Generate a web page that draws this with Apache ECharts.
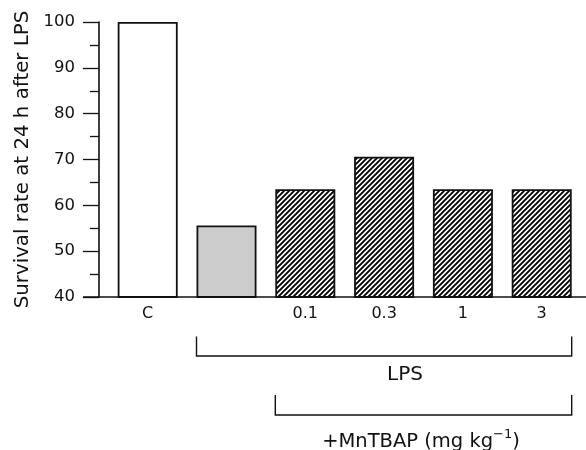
<!DOCTYPE html>
<html>
<head>
<meta charset="utf-8">
<script src="https://cdn.jsdelivr.net/npm/echarts@6/dist/echarts.min.js"></script>
<style>
  html, body { margin: 0; padding: 0; background: #fff; }
  #chart-container { width: 586px; height: 450px; }
</style>
</head>
<body>
<div id="chart-container"></div>
<script>
// 数据
var categories = ['C', '', '0.1', '0.3', '1', '3'];
var survival = [100, 55.6, 63.5, 70.6, 63.5, 63.5];
var fillKind = ['white', 'gray', 'hatch', 'hatch', 'hatch', 'hatch'];

var FONT = 'DejaVu Sans';
var INK = '#111';

// 斜线填充
var tile = document.createElement('canvas');
tile.width = 5;
tile.height = 5;
var ctx = tile.getContext('2d');
ctx.fillStyle = '#fff';
ctx.fillRect(0, 0, 5, 5);
ctx.strokeStyle = '#000';
ctx.lineWidth = 1.9;
ctx.beginPath();
ctx.moveTo(-1, 6); ctx.lineTo(6, -1);
ctx.moveTo(-1, 1); ctx.lineTo(1, -1);
ctx.moveTo(4, 6); ctx.lineTo(6, 4);
ctx.stroke();

function fillFor(kind) {
    if (kind === 'white') return '#ffffff';
    if (kind === 'gray') return '#cccccc';
    return { image: tile, repeat: 'repeat' };
}

var barData = survival.map(function (v, i) {
    return { value: v, itemStyle: { color: fillFor(fillKind[i]) } };
});

var container = document.getElementById('chart-container');
var myChart = echarts.init(container);

var BAR_W = 60;

myChart.setOption({
    animation: false,
    grid: { left: 108.3, right: 4.9, top: 22, bottom: 153 },
    xAxis: {
        type: 'category',
        data: categories,
        axisLine: { show: false },
        axisTick: { show: false },
        axisLabel: { color: INK, fontFamily: FONT, fontSize: 16, margin: 9 }
    },
    yAxis: {
        type: 'value',
        min: 40,
        max: 100,
        interval: 10,
        offset: 9.3,
        name: 'Survival rate at 24 h after LPS',
        nameLocation: 'middle',
        nameGap: 66,
        nameTextStyle: { color: INK, fontFamily: FONT, fontSize: 19.8 },
        axisLine: { show: true, lineStyle: { color: INK, width: 1.6 } },
        axisTick: { show: true, length: 16, lineStyle: { color: INK, width: 1.3 } },
        minorTick: { show: true, splitNumber: 2, length: 9, lineStyle: { color: INK, width: 1.3 } },
        splitLine: { show: false },
        axisLabel: { color: INK, fontFamily: FONT, fontSize: 16.5, margin: 24 }
    },
    series: [{
        type: 'bar',
        data: barData,
        barWidth: BAR_W,
        itemStyle: { borderColor: '#111', borderWidth: 1.8 }
    }]
});

// 坐标轴线与括号
var y0 = myChart.convertToPixel({ yAxisIndex: 0 }, 40);
var xGray = myChart.convertToPixel({ xAxisIndex: 0 }, 1);
var xFirstDose = myChart.convertToPixel({ xAxisIndex: 0 }, 2);
var xLast = myChart.convertToPixel({ xAxisIndex: 0 }, categories.length - 1);
var half = BAR_W / 2;
var lineStyle = { stroke: INK, lineWidth: 1.4, fill: null };

function bracket(x1, x2, yTop, yBot) {
    return {
        type: 'polyline',
        shape: { points: [[x1, yTop], [x1, yBot], [x2, yBot], [x2, yTop]] },
        style: lineStyle,
        silent: true
    };
}

myChart.setOption({
    graphic: [
        {
            type: 'line',
            shape: { x1: 83, y1: y0, x2: 586, y2: y0 },
            style: { stroke: INK, lineWidth: 1.6 },
            z: 10
        },
        bracket(xGray - half, xLast + half, 336.5, 356),
        bracket(xFirstDose - half, xLast + half, 395, 415),
        {
            type: 'text',
            x: 405, y: 375,
            style: {
                text: 'LPS', fill: INK, font: '20px "' + FONT + '"',
                align: 'center', verticalAlign: 'middle'
            }
        },
        {
            type: 'text',
            x: 421, y: 442,
            style: {
                text: '{a|+MnTBAP (mg kg}{s|−1}{a|)}',
                align: 'center', verticalAlign: 'middle',
                rich: {
                    a: { fill: INK, fontFamily: FONT, fontSize: 19.5 },
                    s: { fill: INK, fontFamily: FONT, fontSize: 13, padding: [0, 0, 14, 0] }
                }
            }
        }
    ]
});
</script>
</body>
</html>
